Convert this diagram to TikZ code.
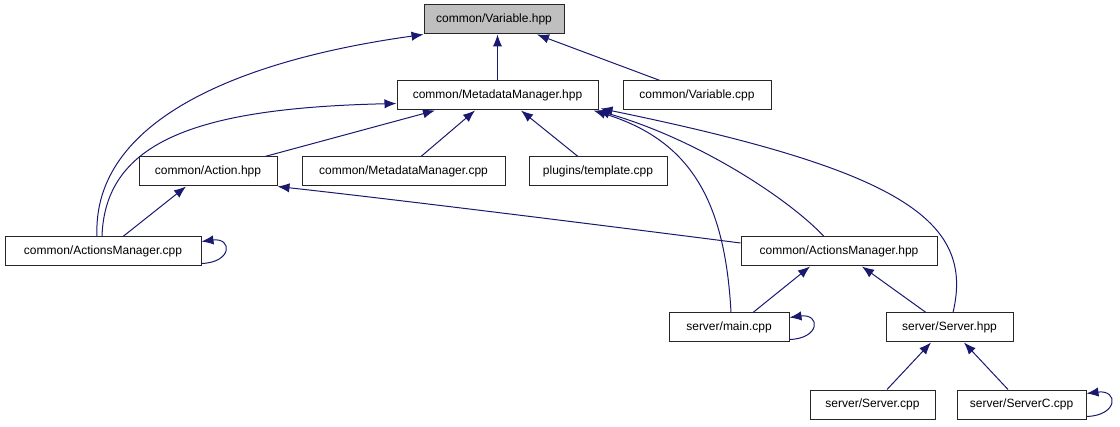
\documentclass[tikz,border=0pt]{standalone}
\usepackage{fontspec}
\setmainfont{Liberation Sans}
\usetikzlibrary{arrows.meta,calc}
\definecolor{edgeblue}{HTML}{191970}
\definecolor{rootgray}{HTML}{BFBFBF}
\begin{document}
\begin{tikzpicture}[x=0.75pt,y=-0.75pt,
  file/.style={draw=black!85, line width=0.75pt, fill=white, inner sep=0pt,
    minimum height=21.75pt, font=\fontsize{9}{10}\selectfont, anchor=center},
  inc/.style={draw=edgeblue, line width=0.75pt, -{Latex[length=9pt,width=7pt]}}]
\useasboundingbox (0,0) rectangle (1120,427);
% nodes
\node[file, fill=rootgray, minimum width=105pt] (vh) at (494,19.5) {common/Variable.hpp};
\node[file, minimum width=150.75pt] (mmh) at (497.5,95.5) {common/MetadataManager.hpp};
\node[file, minimum width=111pt] (vc) at (697,95.5) {common/Variable.cpp};
\node[file, minimum width=103.5pt] (ah) at (208,171.5) {common/Action.hpp};
\node[file, minimum width=152.25pt] (mmc) at (403.5,171.5) {common/MetadataManager.cpp};
\node[file, minimum width=103.5pt] (tc) at (598,171.5) {plugins/template.cpp};
\node[file, minimum width=147pt] (amc) at (103,251.5) {common/ActionsManager.cpp};
\node[file, minimum width=147pt] (amh) at (839,251.5) {common/ActionsManager.hpp};
\node[file, minimum width=90pt] (mc) at (729,327.5) {server/main.cpp};
\node[file, minimum width=95.25pt] (sh) at (949.5,327.5) {server/Server.hpp};
\node[file, minimum width=93.75pt] (sc) at (872.5,404.5) {server/Server.cpp};
\node[file, minimum width=96.75pt] (scc) at (1021.5,404.5) {server/ServerC.cpp};
% edges (arrow points to the included file)
\draw[inc] (mmh.north) -- (mmh.north |- vh.south);
\draw[inc] ($(vc.north)+(-37,0)$) -- ($(vh.south)+(43,0)$);
\draw[inc] ($(amc.north)+(-6,0)$) .. controls (92,120) and (240,60) .. (vh.south west);
\draw[inc] ($(amc.north)+(-1,0)$) .. controls (105,140) and (200,108) .. ($(mmh.west)+(0,8)$);
\draw[inc] ($(ah.north)+(57,0)$) -- ($(mmh.south)+(-62.5,0)$);
\draw[inc] ($(mmc.north)+(17.5,0)$) -- ($(mmh.south)+(-22.5,0)$);
\draw[inc] ($(tc.north)+(-20,0)$) -- ($(mmh.south)+(23.5,0)$);
\draw[inc] ($(mc.north)+(2,0)$) .. controls (725,200) and (690,140) .. ($(mmh.south east)+(-5,0)$);
\draw[inc] ($(amh.north)+(-15,0)$) .. controls (790,200) and (700,140) .. ($(mmh.south east)+(-1,0)$);
\draw[inc] ($(sh.north)+(3.5,0)$) .. controls (975,220) and (900,170) .. ($(mmh.south east)+(2,-2)$);
\draw[inc] ($(amc.north)+(20,0)$) -- ($(ah.south)+(-22,0)$);
\draw[inc] ($(amh.west)+(0,-8.5)$) .. controls (600,225) and (400,200) .. (ah.south east);
\draw[inc] ($(amc.south east)+(0,-3)$) .. controls +(31,-1) and +(31,-4) .. ($(amc.north east)+(0,5)$);
\draw[inc] ($(mc.north)+(24,0)$) -- ($(amh.south)+(-29,0)$);
\draw[inc] ($(sh.north)+(-23.5,0)$) -- ($(amh.south)+(23,0)$);
\draw[inc] ($(mc.south east)+(0,-3)$) .. controls +(31,-1) and +(31,-4) .. ($(mc.north east)+(0,5)$);
\draw[inc] ($(sc.north)+(14.5,0)$) -- ($(sh.south)+(-18.5,0)$);
\draw[inc] ($(scc.north)+(-13.5,0)$) -- ($(sh.south)+(14.5,0)$);
\draw[inc] ($(scc.south east)+(0,-3)$) .. controls +(32,-1) and +(32,-4) .. ($(scc.north east)+(0,4)$);
\end{tikzpicture}
\end{document}
